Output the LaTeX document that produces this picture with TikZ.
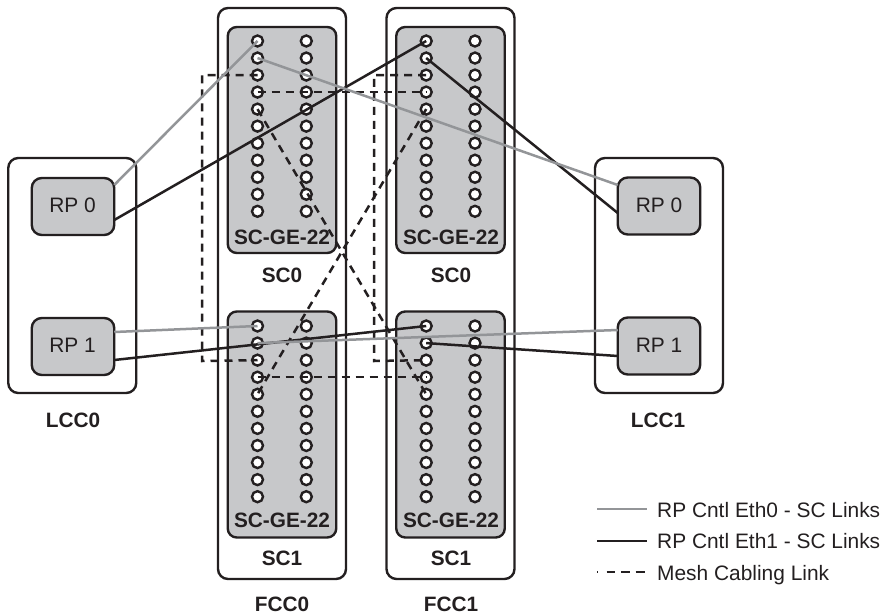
\documentclass[tikz,border=0pt]{standalone}
\usepackage{fontspec}
\setmainfont{Liberation Sans}
\definecolor{ink}{HTML}{231F20}
\definecolor{panel}{HTML}{C7C8CA}
\definecolor{eth}{HTML}{939598}
\tikzset{
  chassis/.style={draw=ink,line width=2.4pt,fill=white,rounded corners=10pt,inner sep=0pt,outer sep=0pt},
  card/.style={draw=ink,line width=2.4pt,fill=panel,rounded corners=9pt,inner sep=0pt,outer sep=0pt,minimum width=108.5pt},
  rpbox/.style={draw=ink,line width=2.4pt,fill=panel,rounded corners=10pt,inner sep=0pt,outer sep=0pt,minimum width=82.5pt,minimum height=57pt},
  port/.style={circle,draw=ink,line width=2.4pt,fill=white,minimum size=11pt,inner sep=0pt,outer sep=0pt},
  txt/.style={text=ink,font=\fontsize{20.9}{24}\selectfont,inner sep=0pt},
  btxt/.style={text=ink,font=\fontsize{20.8}{24}\selectfont\bfseries,inner sep=0pt},
  linkA/.style={draw=eth,line width=2.5pt},
  linkB/.style={draw=ink,line width=2.5pt},
  mesh/.style={draw=ink,line width=2.5pt,dash pattern=on 8pt off 6pt},
}
\begin{document}
\begin{tikzpicture}[x=1pt,y=-1pt]
\useasboundingbox (0,0) rectangle (882,615);
% chassis
\node[chassis,minimum width=128pt,minimum height=235pt] (lcc0) at (72.25,275.5) {};
\node[chassis,minimum width=128pt,minimum height=235pt] (lcc1) at (659,275.5) {};
\node[chassis,minimum width=128pt,minimum height=571pt] (fcc0) at (282,293.5) {};
\node[chassis,minimum width=128pt,minimum height=571pt] (fcc1) at (450.5,293.5) {};
% cards
\node[card,minimum height=226pt] (c00) at (282,140) {};
\node[card,minimum height=226pt] (c01) at (282,424.5) {};
\node[card,minimum height=226pt] (c10) at (450.5,140) {};
\node[card,minimum height=226pt] (c11) at (450.5,424.5) {};
% route processors
\node[rpbox] (r00) at (73,206.5) {};
\node[rpbox] (r01) at (73,346.5) {};
\node[rpbox] (r10) at (659,206) {};
\node[rpbox] (r11) at (659,346) {};
\node[txt] (t1) at (72.5,205) {RP 0};
\node[txt] (t2) at (72.5,345) {RP 1};
\node[txt] (t3) at (659,205) {RP 0};
\node[txt] (t4) at (659,345) {RP 1};
% ports
\foreach \f/\xa/\xb in {0/257.5/306.3,1/426.2/475}{
  \foreach \i in {1,...,11}{
    \pgfmathsetmacro\ya{41+17.03*(\i-1)}
    \pgfmathsetmacro\yb{326+17.07*(\i-1)}
    \node[port] (f\f s0a\i) at (\xa,\ya) {};
    \node[port] (f\f s0b\i) at (\xb,\ya) {};
    \node[port] (f\f s1a\i) at (\xa,\yb) {};
    \node[port] (f\f s1b\i) at (\xb,\yb) {};
  }
}
% card and chassis labels
\node[btxt] (l1) at (282,237) {SC-GE-22};
\node[btxt] (l2) at (451,237) {SC-GE-22};
\node[btxt] (l3) at (282,520) {SC-GE-22};
\node[btxt] (l4) at (451,520) {SC-GE-22};
\node[btxt] (l5) at (282,275) {SC0};
\node[btxt] (l6) at (451,275) {SC0};
\node[btxt] (l7) at (282,558) {SC1};
\node[btxt] (l8) at (451,558) {SC1};
\node[btxt] (l9) at (282,604) {FCC0};
\node[btxt] (l10) at (451,604) {FCC1};
\node[btxt] (l11) at (73,420) {LCC0};
\node[btxt] (l12) at (658,420) {LCC1};
% mesh links
\coordinate (mA1) at (202,75);
\coordinate (mA2) at (202,361);
\coordinate (mB1) at (374,75);
\coordinate (mB2) at (374,361);
\draw[mesh] (f0s0a3.center) -- (mA1) -- (mA2) -- (f0s1a3.center);
\draw[mesh] (f1s0a3.center) -- (mB1) -- (mB2) -- (f1s1a3.center);
\draw[mesh] (f0s0a4.center) -- (f1s0a4.center);
\draw[mesh] (f0s1a4.center) -- (f1s1a4.center);
\draw[mesh] (f0s0a5.center) -- (f1s1a5.center);
\draw[mesh] (f1s0a5.center) -- (f0s1a5.center);
% control links
\draw[linkB] ([yshift=-13.5pt]r00.east) -- (f1s0a1.center);
\draw[linkB] ([yshift=-13.5pt]r01.east) -- (f1s1a1.center);
\draw[linkB] ([yshift=-7pt]r10.west) -- (f1s0a2.center);
\draw[linkB] ([yshift=-10pt]r11.west) -- (f1s1a2.center);
\draw[linkA] ([yshift=21.5pt]r00.east) -- (f0s0a1.center);
\draw[linkA] ([yshift=14.5pt]r01.east) -- (f0s1a1.center);
\draw[linkA] ([yshift=21pt]r10.west) -- (f0s0a2.center);
\draw[linkA] ([yshift=16pt]r11.west) -- (f0s1a2.center);
% legend
\coordinate (k1a) at (597,509); \coordinate (k1b) at (647,509);
\coordinate (k2a) at (597,541); \coordinate (k2b) at (647,541);
\coordinate (k3a) at (597,572); \coordinate (k3b) at (647,572);
\draw[linkA] (k1a) -- (k1b);
\draw[linkB] (k2a) -- (k2b);
\draw[draw=ink,line width=2.5pt,dash pattern=on 1pt off 8.5pt on 8.5pt off 6pt on 8.5pt off 6pt on 9pt off 9pt] (k3a) -- (k3b);
\node[txt,anchor=base west] (k1) at (657,517) {RP Cntl Eth0 - SC Links};
\node[txt,anchor=base west] (k2) at (657,548.5) {RP Cntl Eth1 - SC Links};
\node[txt,anchor=base west] (k3) at (657,580) {Mesh Cabling Link};
\end{tikzpicture}
\end{document}
